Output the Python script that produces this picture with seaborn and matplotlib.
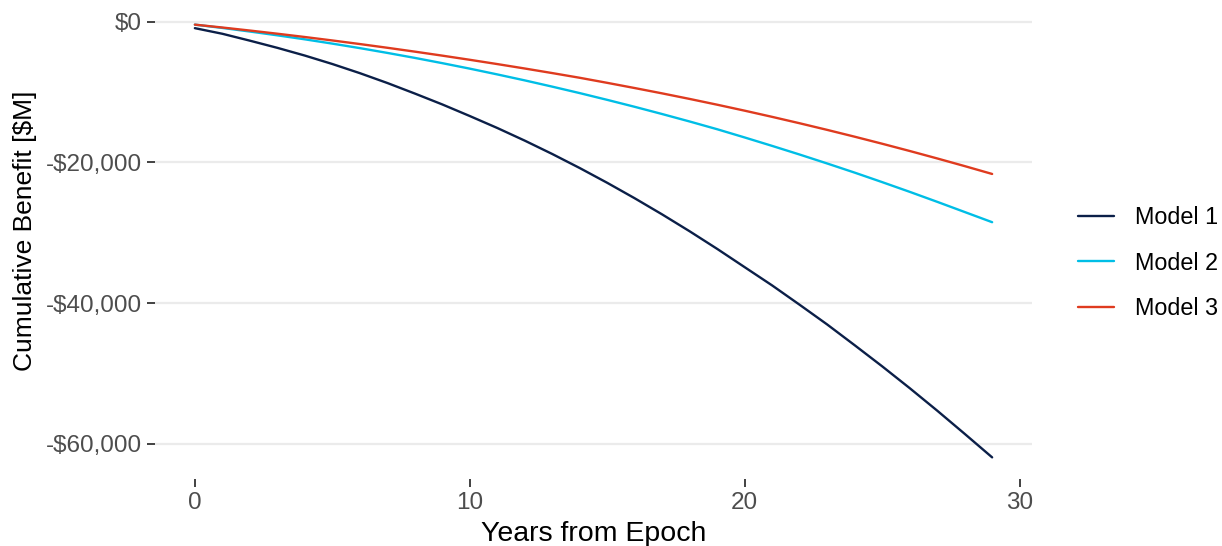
import numpy as np
import pandas as pd
import matplotlib
matplotlib.use("Agg")
import matplotlib.pyplot as plt
import seaborn as sns

# --- Data ---
years = list(range(30))
model_1 = [-900, -1700, -2680, -3700, -4800, -6000, -7300, -8700, -10200, -11750,
           -13400, -15100, -16900, -18800, -20800, -22900, -25100, -27400, -29800, -32300,
           -34900, -37500, -40250, -43050, -46000, -49000, -52100, -55300, -58600, -61950]
model_2 = [-400, -870, -1380, -1920, -2490, -3100, -3740, -4420, -5130, -5880,
           -6660, -7480, -8330, -9220, -10140, -11100, -12090, -13120, -14180, -15280,
           -16450, -17650, -18880, -20150, -21450, -22800, -24180, -25600, -27050, -28500]
model_3 = [-400, -810, -1240, -1690, -2160, -2650, -3160, -3690, -4240, -4810,
           -5400, -6010, -6640, -7290, -7960, -8680, -9420, -10180, -10970, -11790,
           -12640, -13520, -14430, -15370, -16340, -17340, -18370, -19430, -20520, -21640]
model_names = ["Model 1", "Model 2", "Model 3"]
y_ticks = [0, -20000, -40000, -60000]
x_ticks = [0, 10, 20, 30]

# --- Style ---
sns.set_theme(style="white")
plt.rcParams["font.family"] = ["Liberation Sans", "DejaVu Sans"]
palette = {"Model 1": "#0B1F48", "Model 2": "#00BEE6", "Model 3": "#DF3B1F"}

df = pd.DataFrame({
    "year": years * 3,
    "benefit": model_1 + model_2 + model_3,
    "model": [m for m in model_names for _ in years],
})

fig = plt.figure(figsize=(12.22, 5.46), dpi=100)
ax = fig.add_axes([155 / 1222, 1 - 479 / 546, (1032 - 155) / 1222, (479 - 3) / 546])

sns.lineplot(data=df, x="year", y="benefit", hue="model", palette=palette,
             linewidth=1.7, ax=ax, legend=False)

ax.margins(x=0.05, y=0.05)
ax.set_xticks(x_ticks)
ax.set_yticks(y_ticks)
ax.set_yticklabels(["$0" if v == 0 else f"-${abs(v):,}" for v in y_ticks])
ax.grid(axis="y", color="#EBEBEB", linewidth=1.6)
ax.grid(axis="x", visible=False)
for s in ax.spines.values():
    s.set_visible(False)
ax.tick_params(axis="both", which="major", length=5.5, width=1.3, color="#333333",
               labelsize=17.5, labelcolor="#4D4D4D", pad=4, left=True, bottom=True)

ax.set_xlabel("Years from Epoch", fontsize=20.5, color="black", labelpad=5)
ax.set_ylabel("Cumulative Benefit [$M]", fontsize=19, color="black")
ax.yaxis.set_label_coords(-0.134, 0.521)

handles = [plt.Line2D([], [], color=palette[m], linewidth=1.7) for m in model_names]
leg = fig.legend(handles, model_names, loc="center left", bbox_to_anchor=(1078 / 1222, 1 - 263 / 546),
                 frameon=False, fontsize=16.8, handlelength=1.55, handletextpad=0.9,
                 labelspacing=0.95, borderpad=0, borderaxespad=0)
for t in leg.get_texts():
    t.set_color("black")

fig.savefig("out.png", dpi=100)
